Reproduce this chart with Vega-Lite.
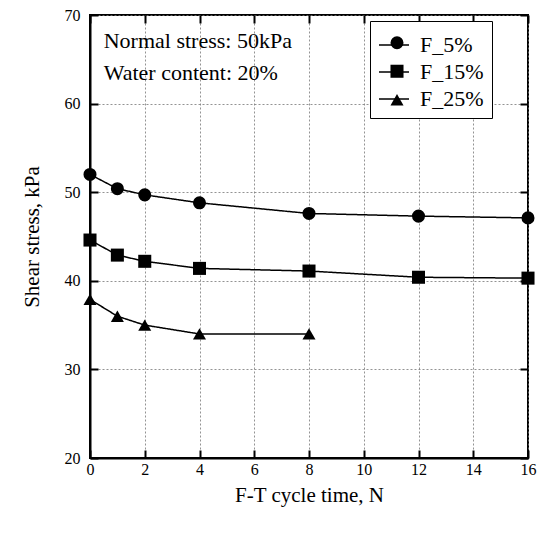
{
  "$schema": "https://vega.github.io/schema/vega-lite/v6.json",
  "width": 438,
  "height": 443,
  "autosize": "none",
  "padding": {"left": 90, "top": 15, "right": 21, "bottom": 77},
  "background": "white",
  "config": {
    "font": "Liberation Serif",
    "view": {"stroke": "black", "strokeWidth": 2},
    "text": {"font": "Liberation Serif"},
    "axis": {
      "labelFont": "Liberation Serif",
      "titleFont": "Liberation Serif",
      "labelFontSize": 16,
      "titleFontSize": 21,
      "titleFontWeight": "normal",
      "labelColor": "black",
      "titleColor": "black",
      "labelFlush": false,
      "domainColor": "black",
      "domainWidth": 2,
      "tickColor": "black",
      "tickWidth": 2,
      "gridColor": "#777777",
      "gridDash": [2, 2],
      "gridWidth": 0.8
    },
    "legend": {"labelFont": "Liberation Serif", "labelFontSize": 22, "labelColor": "black"}
  },
  "datasets": {
    "shear": [
      {"series": "F_5%", "cycles": 0, "stress": 52.0},
      {"series": "F_5%", "cycles": 1, "stress": 50.4},
      {"series": "F_5%", "cycles": 2, "stress": 49.7},
      {"series": "F_5%", "cycles": 4, "stress": 48.8},
      {"series": "F_5%", "cycles": 8, "stress": 47.6},
      {"series": "F_5%", "cycles": 12, "stress": 47.3},
      {"series": "F_5%", "cycles": 16, "stress": 47.1},
      {"series": "F_15%", "cycles": 0, "stress": 44.6},
      {"series": "F_15%", "cycles": 1, "stress": 42.9},
      {"series": "F_15%", "cycles": 2, "stress": 42.2},
      {"series": "F_15%", "cycles": 4, "stress": 41.4},
      {"series": "F_15%", "cycles": 8, "stress": 41.1},
      {"series": "F_15%", "cycles": 12, "stress": 40.4},
      {"series": "F_15%", "cycles": 16, "stress": 40.3},
      {"series": "F_25%", "cycles": 0, "stress": 37.9},
      {"series": "F_25%", "cycles": 1, "stress": 36.0},
      {"series": "F_25%", "cycles": 2, "stress": 35.0},
      {"series": "F_25%", "cycles": 4, "stress": 34.0},
      {"series": "F_25%", "cycles": 8, "stress": 34.0}
    ]
  },
  "layer": [
    {
      "data": {"name": "shear"},
      "mark": {"type": "line", "color": "black", "strokeWidth": 1.5},
      "encoding": {
        "x": {
          "field": "cycles", "type": "quantitative",
          "scale": {"domain": [0, 16], "nice": false},
          "axis": {"orient": "bottom", "values": [0, 2, 4, 6, 8, 10, 12, 14, 16], "title": "F-T cycle time, N", "tickSize": -8, "labelPadding": 11, "titlePadding": 7, "grid": true}
        },
        "y": {
          "field": "stress", "type": "quantitative",
          "scale": {"domain": [20, 70], "nice": false, "zero": false},
          "axis": {"orient": "left", "values": [20, 30, 40, 50, 60, 70], "title": "Shear stress, kPa", "tickSize": -8, "labelPadding": 18, "titlePadding": 22, "grid": true}
        },
        "strokeDash": {
          "field": "series",
          "sort": ["F_5%", "F_15%", "F_25%"],
          "scale": {"range": [[1, 0], [1, 0], [1, 0]]},
          "legend": {
            "title": null,
            "orient": "none",
            "legendX": 280,
            "legendY": 6,
            "padding": 8,
            "strokeColor": "black",
            "fillColor": "white",
            "symbolType": "stroke",
            "symbolSize": 900,
            "symbolStrokeColor": "black",
            "symbolStrokeWidth": 1.5,
            "labelOffset": 10,
            "rowPadding": 0
          }
        }
      }
    },
    {
      "data": {"name": "shear"},
      "mark": {"type": "point", "filled": true, "color": "black", "opacity": 1, "size": 170},
      "encoding": {
        "x": {
          "field": "cycles", "type": "quantitative",
          "axis": {"orient": "top", "values": [0, 2, 4, 6, 8, 10, 12, 14, 16], "tickSize": -8, "labels": false, "title": null, "grid": false, "domain": false}
        },
        "y": {
          "field": "stress", "type": "quantitative",
          "axis": {"orient": "right", "values": [20, 30, 40, 50, 60, 70], "tickSize": -8, "labels": false, "title": null, "grid": false, "domain": false}
        },
        "shape": {
          "field": "series",
          "scale": {"domain": ["F_5%", "F_15%", "F_25%"], "range": ["circle", "square", "triangle-up"]},
          "legend": {
            "title": null,
            "orient": "none",
            "legendX": 288,
            "legendY": 8.75,
            "padding": 8,
            "symbolSize": 170,
            "symbolFillColor": "black",
            "symbolStrokeColor": "black",
            "symbolStrokeWidth": 1.5,
            "labelOpacity": 0,
            "labelOffset": 10,
            "rowPadding": 6.5
          }
        }
      }
    },
    {
      "data": {"values": [{}]},
      "mark": {"type": "text", "align": "left", "baseline": "top", "fontSize": 22, "color": "black", "lineBreak": "\n", "lineHeight": 32},
      "encoding": {
        "x": {"datum": 0.5, "type": "quantitative", "axis": null},
        "y": {"datum": 68.2, "type": "quantitative", "axis": null},
        "text": {"value": "Normal stress: 50kPa\nWater content: 20%"}
      }
    }
  ],
  "resolve": {"axis": {"x": "independent", "y": "independent"}}
}
